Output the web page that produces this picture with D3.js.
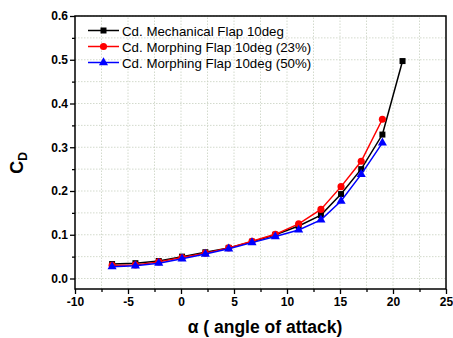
<!DOCTYPE html>
<html>
<head>
<meta charset="utf-8">
<script src="https://cdn.jsdelivr.net/npm/d3@7"></script>
<style>
  body { margin: 0; background: #fff; }
  text { font-family: Arial, "Liberation Sans", sans-serif; }
</style>
</head>
<body>
<svg id="chart" width="453" height="338"></svg>
<script>
// angle of attack (deg)
const alpha = [-6.5, -4.3, -2.1, 0.1, 2.3, 4.5, 6.7, 8.9, 11.1, 13.2, 15.1, 17.0, 19.0, 20.9];
const cdMech  = [0.033, 0.035, 0.040, 0.050, 0.060, 0.070, 0.084, 0.100, 0.120, 0.145, 0.193, 0.250, 0.329, 0.497];
const cdMorph23 = [0.030, 0.031, 0.038, 0.048, 0.058, 0.070, 0.085, 0.101, 0.125, 0.158, 0.210, 0.268, 0.364];
const cdMorph50 = [0.027, 0.029, 0.035, 0.045, 0.056, 0.068, 0.082, 0.096, 0.111, 0.134, 0.177, 0.238, 0.310];
const seriesNames = ['Cd. Mechanical Flap 10deg', 'Cd. Morphing Flap 10deg (23%)', 'Cd. Morphing Flap 10deg (50%)'];
const xTicks = [-10, -5, 0, 5, 10, 15, 20, 25];
const yTicks = [0.0, 0.1, 0.2, 0.3, 0.4, 0.5, 0.6];

const svg = d3.select('#chart');
const m = { left: 75, right: 7, top: 16, bottom: 49 };
const W = 453, H = 338;

const x = d3.scaleLinear().domain([-10, 25]).range([m.left, W - m.right]);
const y = d3.scaleLinear().domain([-0.024, 0.6]).range([H - m.bottom, m.top]);

// grid (minor steps)
const gridX = d3.range(-7.5, 25, 2.5);
const gridY = d3.range(0, 0.601, 0.05);
const grid = svg.append('g').attr('stroke', '#c8d0c0').attr('stroke-width', 0.8).attr('stroke-dasharray', '1.5,1.5');
grid.selectAll('.gx').data(gridX).join('line')
  .attr('x1', d => x(d)).attr('x2', d => x(d)).attr('y1', y.range()[0]).attr('y2', y.range()[1]);
grid.selectAll('.gy').data(gridY).join('line')
  .attr('x1', x.range()[0]).attr('x2', x.range()[1]).attr('y1', d => y(d)).attr('y2', d => y(d));

// axes
const xAxis = svg.append('g').attr('transform', `translate(0,${y.range()[0]})`)
  .call(d3.axisBottom(x).tickValues(xTicks).tickSize(5).tickFormat(d => String(d)));
const xMinor = svg.append('g').attr('transform', `translate(0,${y.range()[0]})`)
  .call(d3.axisBottom(x).tickValues(d3.range(-7.5, 25, 5)).tickSize(3).tickFormat(''));
const yAxis = svg.append('g').attr('transform', `translate(${x.range()[0]},0)`)
  .call(d3.axisLeft(y).tickValues(yTicks).tickSize(5).tickFormat(d => d.toFixed(1)));
const yMinor = svg.append('g').attr('transform', `translate(${x.range()[0]},0)`)
  .call(d3.axisLeft(y).tickValues(d3.range(0.05, 0.6, 0.1)).tickSize(3).tickFormat(''));

[xAxis, xMinor, yAxis, yMinor].forEach(a => {
  a.select('.domain').remove();
  a.selectAll('line').attr('stroke', '#000').attr('stroke-width', 1.3);
  a.selectAll('text').attr('font-size', 12).attr('font-weight', 'bold').attr('fill', '#000')
    .attr('font-family', 'Arial, "Liberation Sans", sans-serif');
});
yAxis.selectAll('text').attr('x', -7);
xAxis.selectAll('text').attr('y', 8);

// frame
svg.append('rect')
  .attr('x', x.range()[0]).attr('y', y.range()[1])
  .attr('width', x.range()[1] - x.range()[0]).attr('height', y.range()[0] - y.range()[1])
  .attr('fill', 'none').attr('stroke', '#000').attr('stroke-width', 1.5);

// series
const series = [
  { vals: cdMech, color: '#000000', sym: d3.symbolSquare, size: 36 },
  { vals: cdMorph23, color: '#ff0000', sym: d3.symbolCircle, size: 40 },
  { vals: cdMorph50, color: '#0000ff', sym: d3.symbolTriangle, size: 36 }
];
const line = d3.line().x(d => x(d[0])).y(d => y(d[1]));

series.forEach(s => {
  const pts = s.vals.map((v, i) => [alpha[i], v]);
  svg.append('path').attr('d', line(pts)).attr('fill', 'none')
    .attr('stroke', s.color).attr('stroke-width', 1.5);
  svg.append('g').selectAll('path').data(pts).join('path')
    .attr('transform', d => `translate(${x(d[0])},${y(d[1])})`)
    .attr('d', d3.symbol().type(s.sym).size(s.size))
    .attr('fill', s.color);
});

// legend
const leg = svg.append('g');
series.forEach((s, i) => {
  const ly = 30.5 + i * 16;
  leg.append('line').attr('x1', 88).attr('x2', 119).attr('y1', ly).attr('y2', ly)
    .attr('stroke', s.color).attr('stroke-width', 1.5);
  leg.append('path').attr('transform', `translate(103.5,${ly})`)
    .attr('d', d3.symbol().type(s.sym).size(s.size)).attr('fill', s.color);
  leg.append('text').attr('x', 122).attr('y', ly + 5).attr('font-size', 13.3)
    .attr('fill', '#000').text(seriesNames[i]);
});

// axis titles
svg.append('text').attr('x', 265).attr('y', 333)
  .attr('text-anchor', 'middle').attr('font-size', 17.5).attr('font-weight', 'bold')
  .text('α ( angle of attack)');

const yt = svg.append('text').attr('transform', `translate(23,163) rotate(-90)`)
  .attr('text-anchor', 'middle').attr('font-size', 18).attr('font-weight', 'bold');
yt.append('tspan').text('C');
yt.append('tspan').attr('font-size', 12).attr('dy', 4).text('D');
</script>
</body>
</html>
